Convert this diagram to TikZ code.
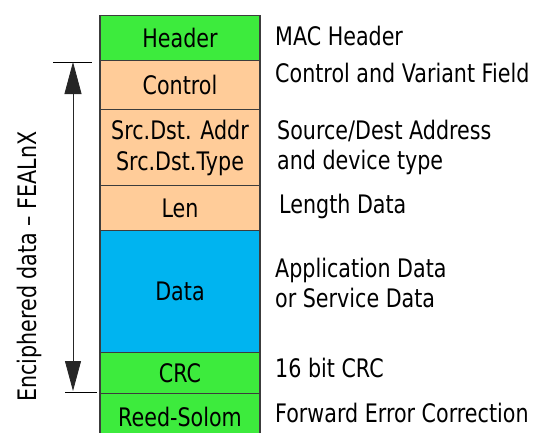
\documentclass[tikz,border=0pt]{standalone}
\usepackage{fontspec}
\setmainfont[FakeStretch=0.81]{DejaVu Sans}
\usetikzlibrary{arrows.meta}

\definecolor{fieldgreen}{RGB}{61,235,61}
\definecolor{fieldpeach}{RGB}{255,204,153}
\definecolor{fieldblue}{RGB}{0,180,240}
\definecolor{edgegray}{RGB}{60,60,60}

\tikzset{
  field/.style={draw=edgegray, line width=1.1pt, minimum width=160pt,
    inner sep=0pt, align=center, anchor=north},
  note/.style={anchor=base west, inner sep=0pt},
  tick/.style={draw=black, line width=0.8pt},
  span/.style={draw=black!85, line width=0.8pt,
    {Triangle[length=32pt,width=17pt]}-{Triangle[length=30pt,width=16pt]}}
}

\begin{document}
\begin{tikzpicture}[x=1pt, y=-1pt, font=\fontsize{25.5}{31}\selectfont]
  \useasboundingbox (0,0) rectangle (536,432);
  \clip (0,0) rectangle (536,432);

  % frame fields, stacked top to bottom
  \node[field, fill=fieldgreen, minimum height=45pt] (hdr) at (180,15) {Header};
  \node[field, fill=fieldpeach, minimum height=49pt] (ctl) at (180,60) {Control};
  \node[field, fill=fieldpeach, minimum height=76pt] (addr) at (180,109)
    {Src.Dst. Addr\\Src.Dst.Type};
  \node[field, fill=fieldpeach, minimum height=45pt] (len) at (180,185) {Len};
  \node[field, fill=fieldblue, minimum height=122pt] (dat) at (180,230) {Data};
  \node[field, fill=fieldgreen, minimum height=41pt] (crc) at (180,352) {CRC};
  \node[field, fill=fieldgreen, minimum height=46pt] (rs) at (180,393) {Reed-Solom};

  % field descriptions
  \node[note] (dhdr) at (275,45) {MAC Header};
  \node[note] (dctl) at (275,82) {Control and Variant Field};
  \node[note] (daddr1) at (277,139) {Source/Dest Address};
  \node[note] (daddr2) at (277,169) {and device type};
  \node[note] (dlen) at (279,213) {Length Data};
  \node[note] (ddat1) at (275,277) {Application Data};
  \node[note] (ddat2) at (275,307) {or Service Data};
  \node[note] (dcrc) at (275,377) {16 bit CRC};
  \node[note] (drs) at (275,422) {Forward Error Correction};

  % enciphered span marker
  \coordinate (ttl) at (53,62);
  \coordinate (ttr) at (92,62);
  \coordinate (btl) at (65,392);
  \coordinate (btr) at (97,392);
  \coordinate (atop) at (73,62);
  \coordinate (abot) at (73,391);
  \draw[tick] (ttl) -- (ttr);
  \draw[tick] (btl) -- (btr);
  \draw[span] (atop) -- (abot);

  \node[note, rotate=90] (enc) at (36.5,402) {Enciphered data – FEALnX};
\end{tikzpicture}
\end{document}
